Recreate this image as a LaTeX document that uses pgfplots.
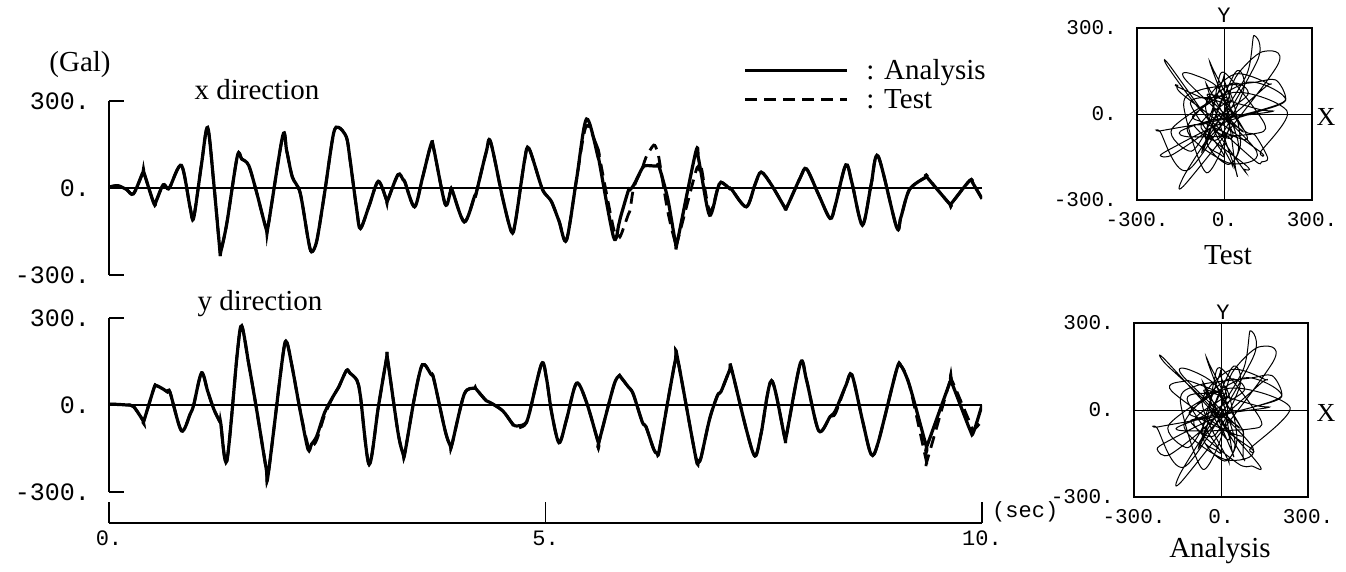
\documentclass[border=0pt]{standalone}
\usepackage{fontspec}
\setmainfont{Liberation Serif}
\setmonofont{Liberation Mono}
\usepackage{pgfplots}
\usepackage{pgfplotstable}
\pgfplotsset{compat=1.18}

\pgfplotstableread{
t xa xt ya yt
0.00 3 3 3 3
0.10 8 8 2 2
0.20 -5 -5 0 0
0.28 -20 -20 -5 -5
0.39 55 55 -53 -53
0.40 53 53 -54 -54
0.515 -54 -54 58 58
0.54 -45 -45 67 67
0.62 11 11 55 55
0.67 -2 -2 45 45
0.70 5 5 43 43
0.83 78 78 -89 -89
0.93 -69 -69 -31 -31
0.97 -103 -103 0 0
1.06 83 83 111 111
1.13 209 209 48 48
1.20 17 17 -14 -14
1.27 -215 -215 -58 -58
1.28 -220 -220 -63 -63
1.35 -121 -121 -193 -193
1.47 110 110 180 180
1.52 100 100 273 273
1.60 78 78 143 143
1.69 -14 -14 -14 -14
1.80 -140 -140 -218 -218
1.825 -127 -127 -236 -236
1.99 180 180 167 167
2.035 129 129 217 217
2.10 38 38 128 128
2.19 -17 -17 -20 -20
2.28 -175 -175 -153 -140
2.32 -220 -220 -135 -145
2.38 -182 -182 -107 -120
2.47 -16 -16 -26 -35
2.57 185 185 31 31
2.63 209 209 61 61
2.72 175 175 119 119
2.76 100 100 110 110
2.84 -80 -80 85 85
2.88 -140 -140 30 30
2.98 -61 -61 -205 -205
3.085 23 23 -7 -7
3.18 -42 -42 162 162
3.19 -44 -44 160 160
3.31 46 46 -94 -94
3.37 28 28 -170 -170
3.39 20 20 -164 -164
3.50 -65 -65 27 27
3.59 34 34 139 139
3.69 152 152 105 105
3.72 135 135 90 90
3.85 -55 -55 -88 -88
3.91 -14 -14 -141 -141
3.93 -7 -7 -134 -134
4.07 -117 -117 38 38
4.19 -26 -26 58 58
4.20 -25 -25 57 57
4.32 123 123 15 15
4.37 160 160 8 8
4.51 -36 -36 -20 -20
4.61 -151 -151 -60 -60
4.655 -117 -117 -72 -80
4.76 95 95 -66 -70
4.81 137 137 -34 -34
4.955 3 3 142 142
5.01 -25 -25 94 94
5.07 -48 -48 -26 -26
5.155 -114 -114 -130 -130
5.24 -180 -180 -51 -51
5.355 29 29 75 75
5.47 238 215 9 9
5.605 103 125 -130 -130
5.61 100 120 -130 -130
5.78 -170 -140 65 65
5.84 -125 -160 100 100
5.86 -100 -165 97 97
5.95 -8 -90 62 62
5.97 -5 -75 56 56
6.01 10 0 34 34
6.11 69 70 -60 -60
6.15 77 105 -74 -74
6.24 76 148 -153 -153
6.28 76 127 -167 -167
6.30 75 102 -161 -161
6.40 -37 -80 11 11
6.49 -191 -191 159 159
6.51 -185 -185 165 165
6.72 123 55 -179 -179
6.75 105 68 -193 -193
6.78 56 78 -183 -183
6.88 -94 -80 -48 -48
6.97 -5 -5 33 33
7.01 20 20 46 46
7.11 -2 -2 121 121
7.13 -4 -4 125 125
7.30 -65 -65 -84 -84
7.40 12 12 -176 -176
7.47 55 55 -98 -98
7.59 10 10 84 84
7.74 -67 -67 -112 -112
7.76 -69 -69 -104 -104
7.92 37 37 145 145
7.99 66 66 86 86
8.13 -24 -24 -89 -89
8.26 -105 -105 -40 -40
8.32 -59 -59 -20 -30
8.44 80 80 67 67
8.51 18 18 104 104
8.63 -128 -128 -52 -52
8.73 12 12 -170 -170
8.81 110 110 -130 -130
9.02 -134 -134 120 120
9.07 -102 -102 136 136
9.17 -5 -5 67 67
9.36 38 38 -140 -190
9.37 37 37 -141 -193
9.63 -55 -55 76 80
9.65 -53 -53 79 88
9.86 26 26 -84 -60
9.90 14 14 -95 -85
10.0 -37 -37 0 -55
}\data

\pgfplotsset{
  tseries/.style={
    scale only axis, width=873pt, height=174pt,
    xmin=0, xmax=10, ymin=-300, ymax=300,
    axis x line=none, axis y line*=left,
    ytick={-300,0,300}, yticklabels={-300.,0.,300.},
    tick align=inside, major tick length=15pt,
    y axis line style={line width=1.6pt},
    every tick/.style={black, line width=1.6pt},
    yticklabel style={font=\fontsize{25}{25}\selectfont\ttfamily, anchor=east, inner sep=0pt, xshift=-19pt},
  },
  orbit/.style={
    scale only axis, width=175pt, height=172pt,
    xmin=-300, xmax=300, ymin=-300, ymax=300,
    xtick={-300,0,300}, xticklabels={-300.,0.,300.},
    ytick={-300,0,300}, yticklabels={-300.,0.,300.},
    major tick length=0pt,
    axis line style={line width=1.3pt},
    xticklabel style={font=\fontsize{21}{21}\selectfont\ttfamily, anchor=north, inner sep=0pt, yshift=-12pt},
    yticklabel style={font=\fontsize{21}{21}\selectfont\ttfamily, anchor=east, inner sep=0pt, xshift=-20pt},
  },
  anaStyle/.style={black, line width=3.2pt, smooth},
  testStyle/.style={black, line width=2.8pt, dash pattern=on 12pt off 7pt, smooth},
}

\begin{document}
\begin{tikzpicture}[x=1pt,y=1pt]
\useasboundingbox (0,0) rectangle (1346,571);

% x direction
\begin{axis}[tseries, at={(109pt,296pt)}, anchor=south west,
  legend cell align=left,
  legend style={draw=none, fill=none, at={(0.727,1.245)}, anchor=north west,
    inner sep=0pt, row sep=6pt, font=\fontsize{29}{30}\selectfont,
    nodes={inner sep=1pt}},
  legend image code/.code={\draw[#1] (0pt,0pt) -- (102pt,0pt); \path[draw=none] (0pt,0pt) -- (120pt,0pt);}]
\addplot[black, line width=1.1pt, forget plot] coordinates {(0,0) (10,0)};
\addplot[anaStyle] table[x=t, y=xa]{\data};
\addlegendentry{: Analysis}
\addplot[testStyle] table[x=t, y=xt]{\data};
\addlegendentry{: Test}
\end{axis}

% y direction
\begin{axis}[tseries, at={(109pt,79pt)}, anchor=south west]
\addplot[black, line width=1.1pt] coordinates {(0,0) (10,0)};
\addplot[anaStyle] table[x=t, y=ya]{\data};
\addplot[testStyle] table[x=t, y=yt]{\data};
\end{axis}

% time axis
\begin{axis}[scale only axis, width=873pt, height=30pt, at={(109pt,48pt)}, anchor=south west,
  xmin=0, xmax=10, ymin=0, ymax=1, axis y line=none, axis x line*=bottom,
  xtick={0,5,10}, xticklabels={0.,5.,10.}, tick align=inside, major tick length=21pt,
  x axis line style={line width=1.6pt}, every tick/.style={black, line width=1.6pt},
  xticklabel style={font=\fontsize{22}{22}\selectfont\ttfamily, anchor=north, inner sep=0pt, yshift=-8pt}]
\end{axis}

% orbit Test
\begin{axis}[orbit, at={(1137pt,371pt)}, anchor=south west]
\addplot[black, line width=1pt] coordinates {(-300,0) (300,0)};
\addplot[black, line width=1pt] coordinates {(0,-300) (0,300)};
\addplot[black, line width=1pt, smooth] table[x=xt, y=yt]{\data};
\end{axis}

% orbit Analysis
\begin{axis}[orbit, at={(1134pt,74pt)}, anchor=south west, width=174pt, height=174pt]
\addplot[black, line width=1pt] coordinates {(-300,0) (300,0)};
\addplot[black, line width=1pt] coordinates {(0,-300) (0,300)};
\addplot[black, line width=1pt, smooth] table[x=xa, y=ya]{\data};
\end{axis}

% texts
\node[font=\fontsize{29}{30}\selectfont] at (80,506) {(Gal)};
\node[font=\fontsize{29}{30}\selectfont, anchor=base] at (257,471) {x direction};
\node[font=\fontsize{29}{30}\selectfont, anchor=base] at (260,261) {y direction};
\node[font=\fontsize{22}{22}\selectfont\ttfamily, anchor=west, inner sep=0pt] at (992,59) {(sec)};
\node[font=\fontsize{22}{22}\selectfont\ttfamily] at (1224,556) {Y};
\node[font=\fontsize{26}{26}\selectfont] at (1326,454) {X};
\node[font=\fontsize{29}{30}\selectfont] at (1228,316) {Test};
\node[font=\fontsize{22}{22}\selectfont\ttfamily] at (1223,259) {Y};
\node[font=\fontsize{26}{26}\selectfont] at (1326,158) {X};
\node[font=\fontsize{29}{30}\selectfont] at (1220,20) {Analysis};
\end{tikzpicture}
\end{document}
